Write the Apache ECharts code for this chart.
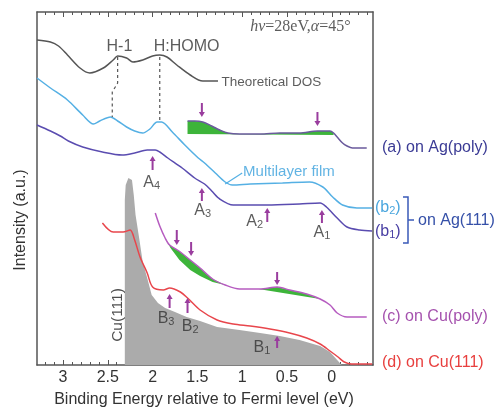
<!DOCTYPE html>
<html><head><meta charset="utf-8">
<script src="https://cdn.jsdelivr.net/npm/echarts@6/dist/echarts.min.js"></script>
<style>html,body{margin:0;padding:0;background:#fff}#c{width:502px;height:409px}</style>
</head><body><div id="c"></div>
<script>
// ---- data (binding energy in eV, intensity in a.u.) ----
const energyTicks = [0, 0.5, 1, 1.5, 2, 2.5, 3];
const minorEnergyTicks = [];
for (let k = -4; k <= 32; k++) { if (k % 5 !== 0) minorEnergyTicks.push(k / 10); }

const theoreticalDOS = [[3.29,325],[3.14,323],[3.05,319],[2.95,310],[2.81,297],[2.70,292],[2.55,297],[2.44,305],[2.39,309],[2.29,307],[2.22,303],[2.11,305],[2.00,309],[1.92,310],[1.84,308],[1.73,300],[1.58,290],[1.44,284],[1.27,284]];
const multilayerB2 = [[3.29,287],[3.14,277],[2.95,265],[2.78,250],[2.66,241],[2.59,244],[2.47,248],[2.39,244],[2.29,238],[2.20,234],[2.11,232],[2.03,236],[1.95,243],[1.90,243],[1.78,233],[1.64,220],[1.49,207],[1.42,202],[1.30,192],[1.19,183],[1.11,180],[0.91,181],[0.55,182],[0.25,183],[0.10,178],[-0.01,168],[-0.12,160],[-0.28,157],[-0.45,157]];
const agB1 = [[3.29,240],[3.14,234],[3.03,229],[2.94,224],[2.78,218],[2.56,213],[2.34,210],[2.20,212],[2.06,215],[1.97,215],[1.92,213],[1.83,207],[1.67,197],[1.53,187],[1.42,181],[1.34,174],[1.25,166],[1.10,160],[0.91,160],[0.72,160],[0.36,161],[0.13,162],[0.06,158],[-0.06,147],[-0.17,138],[-0.31,135],[-0.45,134]];
const agPolyA = [[1.61,244],[1.53,244],[1.44,243],[1.34,239],[1.25,235],[1.16,232],[1.03,231],[0.80,231],[0.58,232],[0.36,232],[0.16,234],[0.02,234],[-0.02,232],[-0.06,228],[-0.12,222],[-0.17,219],[-0.23,217],[-0.39,217]];
const agPolyBackground = [[1.61,231],[-0.02,230]];
const cuPolyC = [[1.97,152],[1.92,139],[1.86,127],[1.81,120],[1.69,113],[1.58,105],[1.47,97],[1.33,86],[1.19,80],[1.03,76],[0.80,76],[0.61,78],[0.47,75],[0.28,71],[0.13,66],[0.02,60],[-0.06,52],[-0.17,48],[-0.39,48]];
const cuPolyBackgroundHigh = [[1.86,127],[1.80,117],[1.70,105],[1.58,95],[1.47,89],[1.33,83],[1.19,80]];
const cuPolyBackgroundLow = [[0.82,76],[0.13,66]];
const cu111D = [[2.56,142],[2.44,133],[2.33,133],[2.25,135],[2.20,125],[2.14,108],[2.06,92],[2.00,78],[1.88,75],[1.81,77],[1.69,73],[1.61,67],[1.47,55],[1.28,45],[1.10,41],[0.91,39],[0.69,36],[0.47,32],[0.28,27],[0.13,21],[0.02,14],[-0.07,8],[-0.14,3],[-0.22,1],[-0.45,1]];
const cu111Substrate = [[2.31,0],[2.31,165],[2.30,180],[2.27,187],[2.25,188],[2.23,185],[2.21,170],[2.19,150],[2.15,127],[2.11,103],[2.06,87],[2.01,70],[1.94,62],[1.86,57],[1.75,53],[1.62,48],[1.47,44],[1.28,38],[1.03,35],[0.80,32],[0.58,29],[0.36,25],[0.13,19],[0.02,13],[-0.06,5],[-0.11,0]];
const dashH1 = [[2.39,308],[2.39,282],[2.45,273],[2.45,248]];
const dashHOMO = [[1.92,308],[1.92,243]];
const multilayerLeader = [[1.00,192],[1.19,181]];
// arrows: [energy, tail intensity, tip intensity]
const featureArrows = [[1.45,262,248],[0.16,253,239],[1.73,135,120],[1.57,123,109],[0.61,93,80],
  [2.00,195,209],[1.45,164,177],[0.72,143,157],[0.11,142,155],[1.81,57,71],[1.61,52,67],[0.61,17,29]];
// annotation anchors: [energy, intensity, text]
const peakLabels = [[2.01,182,'A{s|4}'],[1.44,154,'A{s|3}'],[0.86,143,'A{s|2}'],[0.11,132,'A{s|1}'],
  [1.85,46,'B{s|3}'],[1.58,38,'B{s|2}'],[0.78,17,'B{s|1}'],[2.37,318,'H-1'],[1.62,318,'H:HOMO']];
const noteLabels = [[1.23,283,'Theoretical DOS'],[0.99,193,'Multilayer film']];

// ---- chart ----
const FONT = "'Liberation Sans', Arial, sans-serif";
const AX = '#555';
const GREEN = '#3db43a';
const ARROW = '#9a3d9e';
const subRich = {s:{fontSize:11, lineHeight:11, padding:[6,0,0,0], fontFamily:FONT, color:'#333'}};

function curve(data, color, width, z, extra) {
  return Object.assign({type:'line', data, showSymbol:false, symbol:'none', smooth:0.3,
    lineStyle:{color, width}, itemStyle:{color}, z, silent:true, animation:false}, extra || {});
}
function bandPolygon(cur, base) {
  const hi = base[0][0], lo = base[base.length - 1][0];
  const top = cur.filter(p => p[0] >= lo - 1e-9 && p[0] <= hi + 1e-9);
  return top.concat(base.slice().reverse());
}
const greenBands = [bandPolygon(agPolyA, agPolyBackground), bandPolygon(cuPolyC, cuPolyBackgroundHigh), bandPolygon(cuPolyC, cuPolyBackgroundLow)];

const xBase = {type:'value', min:-0.46, max:3.29, inverse:true, splitLine:{show:false}};
const chart = echarts.init(document.getElementById('c'));
chart.setOption({
  animation:false,
  backgroundColor:'#fff',
  grid:{left:37, right:129, top:12, bottom:44, containLabel:false},
  xAxis:[
    Object.assign({}, xBase, {position:'bottom', axisLine:{onZero:false, lineStyle:{color:AX, width:1.5}},
      axisTick:{inside:true, length:5, customValues:energyTicks, lineStyle:{color:AX, width:1}},
      axisLabel:{customValues:energyTicks, fontSize:16, color:'#333', fontFamily:FONT, margin:5}}),
    Object.assign({}, xBase, {position:'bottom', axisLine:{show:false, onZero:false},
      axisTick:{inside:true, length:3, customValues:minorEnergyTicks, lineStyle:{color:AX, width:1}},
      axisLabel:{show:false}}),
    Object.assign({}, xBase, {position:'top', axisLine:{onZero:false, lineStyle:{color:AX, width:1.5}},
      axisTick:{inside:true, length:5, customValues:energyTicks, lineStyle:{color:AX, width:1}},
      axisLabel:{show:false}}),
    Object.assign({}, xBase, {position:'top', axisLine:{show:false, onZero:false},
      axisTick:{inside:true, length:3, customValues:minorEnergyTicks, lineStyle:{color:AX, width:1}},
      axisLabel:{show:false}})
  ],
  yAxis:[
    {type:'value', min:0, max:353, position:'left', axisLine:{show:true, onZero:false, lineStyle:{color:AX, width:1.5}}, axisTick:{show:false}, axisLabel:{show:false}, splitLine:{show:false}},
    {type:'value', min:0, max:353, position:'right', axisLine:{show:true, onZero:false, lineStyle:{color:AX, width:1.5}}, axisTick:{show:false}, axisLabel:{show:false}, splitLine:{show:false}}
  ],
  series:[
    curve(cu111Substrate, '#ababab', 0, 1, {smooth:false, areaStyle:{color:'#ababab', opacity:1}, lineStyle:{width:0}}),
    {type:'custom', coordinateSystem:'cartesian2d', z:2, silent:true, data:greenBands.map((b, i) => [i]),
      renderItem(params, api) {
        const pts = greenBands[params.dataIndex].map(p => api.coord(p));
        return {type:'polygon', shape:{points:pts}, style:{fill:GREEN}};
      }},
    curve(theoreticalDOS, '#555', 1.5, 3),
    curve(multilayerB2, '#55b0e4', 1.5, 3),
    curve(agB1, '#5a4cb0', 1.5, 3),
    curve(agPolyA, '#6a5a9c', 1.5, 3),
    curve(cuPolyC, '#b65cc0', 1.5, 3),
    curve(cu111D, '#e8464c', 1.5, 4),
    curve(dashH1, '#555', 1.2, 3, {smooth:false, lineStyle:{color:'#555', width:1.2, type:[3,3]}}),
    curve(dashHOMO, '#555', 1.2, 3, {smooth:false, lineStyle:{color:'#555', width:1.2, type:[3,3]}}),
    curve(multilayerLeader, '#55b0e4', 1.2, 3, {smooth:false}),
    {type:'custom', coordinateSystem:'cartesian2d', z:6, silent:true, data:featureArrows, encode:{x:0, y:[1,2]},
      renderItem(params, api) {
        const e = api.value(0);
        const p0 = api.coord([e, api.value(1)]), p1 = api.coord([e, api.value(2)]);
        const dir = p1[1] > p0[1] ? 1 : -1, hl = 5, hw = 3;
        return {type:'group', children:[
          {type:'line', shape:{x1:p0[0], y1:p0[1], x2:p1[0], y2:p1[1] - dir * hl}, style:{stroke:ARROW, lineWidth:2}},
          {type:'polygon', shape:{points:[[p1[0], p1[1]], [p1[0] - hw, p1[1] - dir * hl], [p1[0] + hw, p1[1] - dir * hl]]}, style:{fill:ARROW}}
        ]};
      }},
    {type:'scatter', symbolSize:0, z:7, silent:true,
      data:peakLabels.map(a => ({value:[a[0], a[1]], label:{formatter:a[2]}})),
      label:{show:true, position:'inside', fontSize:16, color:'#333', fontFamily:FONT, rich:subRich}},
    {type:'scatter', symbolSize:0, z:7, silent:true,
      data:noteLabels.map((a, i) => ({value:[a[0], a[1]], label:{formatter:a[2], color: i === 0 ? '#333' : '#3aa0dc', fontSize: i === 0 ? 13.5 : 15}})),
      label:{show:true, position:'inside', align:'left', fontFamily:FONT}},
    {type:'scatter', symbolSize:0, z:7, silent:true,
      data:[{value:[2.39, 50], label:{formatter:'Cu(111)'}}],
      label:{show:true, position:'inside', rotate:90, fontSize:15.5, color:'#222', fontFamily:FONT}},
    {type:'scatter', symbolSize:0, z:7, silent:true,
      data:[{value:[0.35, 338], label:{formatter:'{i|hν}=28eV,{i|α}=45°'}}],
      label:{show:true, position:'inside', fontSize:16, color:'#333', fontFamily:"'Liberation Serif', serif",
        rich:{i:{fontStyle:'italic', fontSize:16, color:'#333', fontFamily:"'Liberation Serif', serif"}}}}
  ],
  graphic:[
    {type:'text', x:204, y:400, style:{text:'Binding Energy relative to Fermi level (eV)', font:'16px ' + FONT, fill:'#333', align:'center', verticalAlign:'middle'}},
    {type:'text', x:21, y:220, rotation:Math.PI / 2, style:{text:'Intensity (a.u.)', font:'16px ' + FONT, fill:'#333', align:'center', verticalAlign:'middle'}},
    {type:'text', x:382, y:148, style:{text:'(a) on Ag(poly)', font:'16px ' + FONT, fill:'#3b3b95', verticalAlign:'middle'}},
    {type:'text', x:375, y:208, style:{text:'(b{s|2})', font:'16px ' + FONT, fill:'#4aa6de', verticalAlign:'middle', rich:{s:{fontSize:11, lineHeight:11, padding:[6,0,0,0], fill:'#4aa6de', fontFamily:FONT}}}},
    {type:'text', x:375, y:232, style:{text:'(b{s|1})', font:'16px ' + FONT, fill:'#4a40a4', verticalAlign:'middle', rich:{s:{fontSize:11, lineHeight:11, padding:[6,0,0,0], fill:'#4a40a4', fontFamily:FONT}}}},
    {type:'polyline', shape:{points:[[403,197],[408,197],[408,243],[403,243]]}, style:{stroke:'#3a5ab8', lineWidth:1.5, fill:null}},
    {type:'line', shape:{x1:408, y1:220, x2:414, y2:220}, style:{stroke:'#3a5ab8', lineWidth:1.5}},
    {type:'text', x:418, y:221, style:{text:'on Ag(111)', font:'16px ' + FONT, fill:'#3550a8', verticalAlign:'middle'}},
    {type:'text', x:382, y:317, style:{text:'(c) on Cu(poly)', font:'16px ' + FONT, fill:'#a552ae', verticalAlign:'middle'}},
    {type:'text', x:382, y:363, style:{text:'(d) on Cu(111)', font:'16px ' + FONT, fill:'#e8403f', verticalAlign:'middle'}}
  ]
});
</script></body></html>
